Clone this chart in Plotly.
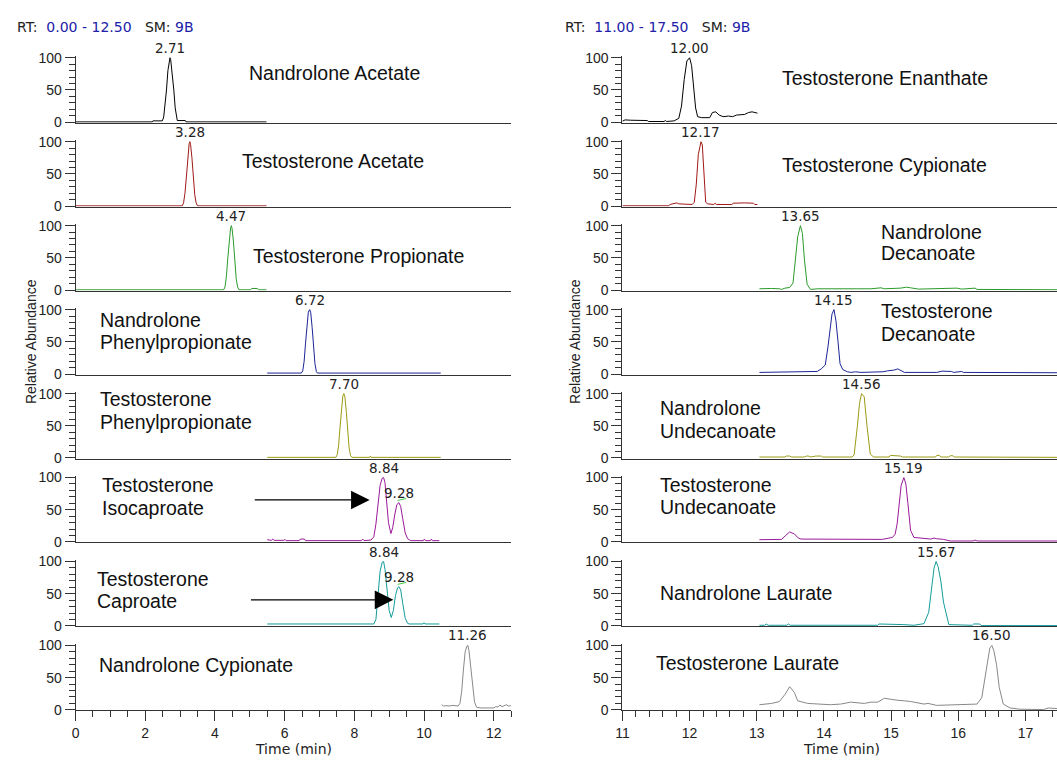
import plotly.graph_objects as go

# ---------------- data ----------------
left_names = [
    ["Nandrolone Acetate"], ["Testosterone Acetate"], ["Testosterone Propionate"],
    ["Nandrolone", "Phenylpropionate"], ["Testosterone", "Phenylpropionate"],
    ["Testosterone", "Isocaproate"], ["Testosterone", "Caproate"], ["Nandrolone Cypionate"],
]
right_names = [
    ["Testosterone Enanthate"], ["Testosterone Cypionate"], ["Nandrolone", "Decanoate"],
    ["Testosterone", "Decanoate"], ["Nandrolone", "Undecanoate"], ["Testosterone", "Undecanoate"],
    ["Nandrolone Laurate"], ["Testosterone Laurate"],
]
left_peak_rt = [[2.71], [3.28], [4.47], [6.72], [7.70], [8.84, 9.28], [8.84, 9.28], [11.26]]
left_peak_h = [[100], [100], [100], [100], [100], [100, 61], [100, 61], [100]]
right_peak_rt = [[12.00], [12.17], [13.65], [14.15], [14.56], [15.19], [15.67], [16.50]]
right_peak_h = [[100], [100], [100], [100], [100], [100], [100], [100]]

left_x = [
    [0.00, 2.20, 2.22, 2.46, 2.49, 2.53, 2.57, 2.61, 2.65, 2.69, 2.71, 2.73, 2.77, 2.82, 2.86, 2.89, 2.92, 3.15, 3.17, 5.48],
    [0.00, 3.06, 3.10, 3.14, 3.18, 3.22, 3.26, 3.28, 3.30, 3.34, 3.38, 3.42, 3.46, 3.50, 5.48],
    [0.00, 4.25, 4.29, 4.33, 4.37, 4.41, 4.45, 4.47, 4.49, 4.53, 4.57, 4.61, 4.65, 4.69, 5.02, 5.05, 5.22, 5.25, 5.48],
    [5.50, 6.48, 6.52, 6.56, 6.60, 6.64, 6.68, 6.72, 6.75, 6.79, 6.83, 6.87, 6.91, 6.94, 10.48],
    [5.50, 7.47, 7.51, 7.55, 7.59, 7.63, 7.67, 7.70, 7.73, 7.77, 7.81, 7.85, 7.89, 7.93, 8.44, 8.46, 8.48, 10.48],
    [5.50, 5.62, 5.66, 5.70, 5.98, 6.01, 6.04, 6.42, 6.45, 6.57, 6.60, 8.20, 8.24, 8.28, 8.48, 8.56, 8.62, 8.68, 8.74, 8.80,
     8.84, 8.88, 8.93, 8.98, 9.05, 9.10, 9.16, 9.22, 9.28, 9.33, 9.39, 9.46, 9.53, 9.62, 9.98, 10.01, 10.04, 10.18, 10.21, 10.24, 10.44],
    [5.50, 8.56, 8.62, 8.68, 8.74, 8.80, 8.84, 8.88, 8.94, 9.00, 9.06, 9.12, 9.18, 9.24, 9.28, 9.33, 9.39, 9.46, 9.53, 9.58,
     9.97, 10.00, 10.03, 10.44],
    [10.51, 10.56, 10.62, 10.75, 10.80, 10.98, 11.03, 11.08, 11.13, 11.18, 11.23, 11.26, 11.29, 11.34, 11.39, 11.45, 11.51,
     11.57, 11.63, 12.00, 12.06, 12.12, 12.18, 12.24, 12.30, 12.36, 12.42, 12.49],
]
left_y = [
    [0.4, 0.4, 2, 2, 2, 8, 25, 50, 80, 97, 100, 97, 80, 50, 22, 8, 2.5, 2.5, 0.4, 0.4],
    [0.4, 0.4, 5, 20, 45, 78, 97, 100, 96, 75, 45, 18, 5, 0.4, 0.4],
    [0.4, 0.4, 5, 22, 50, 80, 97, 100, 96, 76, 45, 18, 5, 0.4, 0.4, 2.5, 2.5, 0.4, 0.4],
    [1.5, 1.5, 5, 20, 48, 78, 96, 100, 95, 72, 42, 16, 4, 1.5, 1.5],
    [1, 1, 5, 20, 48, 78, 96, 100, 95, 72, 42, 16, 4, 1, 1, 3, 1, 1],
    [3.5, 2.5, 4.5, 2.5, 2.5, 4, 2, 2, 4.5, 4.5, 2, 2, 4.5, 2, 3, 8, 28, 60, 88, 99,
     100, 92, 65, 30, 13, 22, 42, 58, 61, 55, 36, 14, 5, 2, 2, 4.5, 2, 2, 4.5, 2, 2],
    [3, 3, 10, 45, 85, 99, 100, 88, 52, 24, 13, 24, 47, 59, 61, 56, 35, 12, 4, 3, 3, 5, 3, 3],
    [8, 6, 6.5, 6, 7, 6, 10, 28, 62, 90, 99, 100, 92, 65, 35, 12, 4, 3, 3, 3, 5, 4.5, 7.5, 5, 6, 8, 6, 6.5],
]
right_x = [
    [11.00, 11.04, 11.12, 11.25, 11.37, 11.39, 11.62, 11.64, 11.66, 11.77, 11.84, 11.88, 11.92, 11.96, 12.00, 12.03,
     12.06, 12.09, 12.12, 12.18, 12.30, 12.34, 12.39, 12.44, 12.50, 12.58, 12.64, 12.70, 12.82, 12.88, 12.93, 13.01],
    [11.00, 11.69, 11.71, 11.78, 11.81, 11.84, 11.94, 12.04, 12.07, 12.10, 12.13, 12.17, 12.19, 12.22, 12.24, 12.27,
     12.36, 12.38, 12.40, 12.63, 12.65, 12.82, 12.95, 12.97, 13.01],
    [13.04, 13.12, 13.22, 13.34, 13.37, 13.42, 13.49, 13.54, 13.58, 13.61, 13.65, 13.68, 13.71, 13.75, 13.80, 13.91,
     14.50, 14.70, 14.85, 14.90, 15.14, 15.23, 15.29, 15.41, 15.98, 16.05, 16.25, 16.28, 17.47],
    [13.04, 13.50, 13.90, 13.96, 14.02, 14.06, 14.09, 14.12, 14.15, 14.18, 14.21, 14.24, 14.28, 14.35, 14.40, 14.47,
     14.55, 14.62, 14.88, 14.95, 15.04, 15.10, 15.15, 15.20, 15.68, 15.76, 15.90, 15.93, 16.05, 16.08, 17.47],
    [13.04, 13.42, 13.44, 13.49, 13.52, 13.71, 13.74, 13.77, 13.80, 13.88, 13.96, 13.98, 14.42, 14.45, 14.50, 14.53,
     14.56, 14.60, 14.64, 14.69, 14.74, 14.97, 14.99, 15.14, 15.17, 15.66, 15.68, 15.72, 15.74, 15.86, 15.88, 15.92,
     15.94, 17.47],
    [13.04, 13.37, 13.43, 13.49, 13.56, 13.62, 13.66, 14.87, 15.02, 15.06, 15.09, 15.12, 15.15, 15.19, 15.22, 15.25,
     15.29, 15.34, 15.59, 15.64, 15.68, 15.78, 15.88, 16.22, 16.25, 16.28, 17.47],
    [13.04, 13.12, 13.14, 13.17, 13.45, 13.47, 13.50, 14.80, 14.82, 14.90, 14.95, 15.05, 15.10, 15.15, 15.19, 15.34,
     15.49, 15.56, 15.61, 15.64, 15.67, 15.70, 15.74, 15.78, 15.86, 16.21, 16.23, 16.32, 16.34, 17.47],
    [13.04, 13.22, 13.34, 13.42, 13.49, 13.56, 13.61, 13.76, 14.10, 14.25, 14.40, 14.48, 14.60, 14.70, 14.80, 14.90,
     15.00, 15.09, 15.20, 15.29, 15.49, 15.55, 15.68, 15.90, 16.08, 16.28, 16.35, 16.40, 16.44, 16.47, 16.50, 16.53,
     16.57, 16.61, 16.67, 16.77, 16.92, 17.27, 17.34, 17.47],
]
right_y = [
    [1.5, 3.5, 3, 3, 2.5, 1, 1, 2.5, 1, 2, 6, 25, 66, 95, 100, 88, 55, 22, 8.5, 7, 7, 15, 16, 11, 8.5, 9.5, 8.5, 11,
     12, 15, 16, 14],
    [0.5, 0.5, 2.5, 3.5, 5, 3.5, 2.5, 2.5, 6, 34, 80, 100, 95, 45, 6, 3.5, 2.5, 4.5, 2.5, 2.5, 4.5, 5, 4.5, 2.5, 2.5],
    [2, 2.5, 2.5, 2, 1, 3, 4, 11, 52, 83, 100, 88, 47, 9, 1, 2, 2, 2, 3.5, 2, 3, 4.5, 3.5, 1.5, 3, 1.5, 3, 1, 0.5],
    [2.5, 3, 4, 8, 14, 42, 68, 93, 100, 82, 50, 16, 7, 3.5, 2.5, 3.5, 2.5, 2.5, 3.5, 5, 6, 8, 5, 2.5, 2.5, 4.5, 4,
     2.5, 4, 2.5, 2],
    [1.5, 1.5, 3, 3, 1.5, 1.5, 3, 3, 1.5, 3, 3, 1.5, 1.5, 5, 51, 85, 100, 95, 51, 6, 1.5, 1.5, 4, 3, 1.5, 1.5, 4, 4,
     1.5, 1.5, 3.5, 3.5, 1.5, 1],
    [3.5, 4, 10, 15.5, 12.5, 6, 4.5, 4, 7, 12, 28, 60, 88, 100, 90, 60, 18, 7, 4.5, 6, 5, 4, 1.5, 1.5, 3, 1.5, 1.5],
    [1, 1, 3, 1, 1, 3, 1, 1, 3, 3, 2, 3, 3, 2.5, 2, 1, 3.5, 21, 62, 90, 100, 92, 70, 37, 2, 1, 3, 3, 0.5, 0.5],
    [8, 10, 13, 24, 36, 27, 14, 10, 8, 9, 12, 11, 10, 12, 12, 18, 16, 15, 14, 13, 9, 10, 7, 8, 8, 9, 19, 50, 80, 96,
     100, 92, 70, 35, 9, 3, 1, 0.5, 3, 2],
]
trace_colors = ["#000000", "#a01818", "#2a9a2a", "#1c2496", "#9a9a14", "#9a1a9a", "#149a9a", "#888888"]
y_ticks = [0, 50, 100]
y_minor = [10, 20, 30, 40, 60, 70, 80, 90]
# arrows (tail x, tip x, y) in rows 5 and 6 of the left column
arrow_rows = [5, 6]
arrow_tail_x = [5.10, 4.99]
arrow_tip_x = [8.44, 9.12]
arrow_y = [65.2, 40.5]
headers = [("0.00 - 12.50", "9B"), ("11.00 - 17.50", "9B")]

# ---------------- layout geometry ----------------
W, H = 1057, 763
def PX(p): return p / W
def PY(p): return 1 - p / H

ROW0, ROWSTEP, UNIT = 117.3, 85.53, 0.656
col_dom = [(69.0, 507.5), (619.5, 1057.0)]
col_range = [(0, 12.5), (11, 17.47)]
col_dtick = [(2, 0.5), (1, 0.2)]

SMALL = "DejaVu Sans"
LABEL = "Liberation Sans, Arial, sans-serif"
AX = "#333333"
TICKFONT = dict(family=LABEL, size=14, color="#222")

fig = go.Figure()
layout = {}
annotations = []
shapes = []

# name label positions (px): x, list of line-centre y
left_lab_pos = [(241.7, [67.5]), (235, [156.5]), (245.7, [254]), (91.7, [319, 341.7]), (91.7, [399.3, 422.7]),
                (93.3, [487.3, 510.7]), (89, [582.7, 605.3]), (91, [670.7])]
right_lab_pos = [(778.3, [72.5]), (778.3, [160.8]), (877.7, [229, 250.5]), (877.7, [310, 332.7]),
                 (655, [408.3, 431.7]), (655, [486.7, 509.3]), (655, [597.3]), (651.7, [668.3])]

for c in range(2):
    xs_all = left_x if c == 0 else right_x
    ys_all = left_y if c == 0 else right_y
    names = left_names if c == 0 else right_names
    lab_pos = left_lab_pos if c == 0 else right_lab_pos
    prts = left_peak_rt if c == 0 else right_peak_rt
    phs = left_peak_h if c == 0 else right_peak_h
    for r in range(8):
        k = c * 8 + r + 1
        sfx = "" if k == 1 else str(k)
        y0 = ROW0 + ROWSTEP * r
        ydom = [PY(y0 + 0.8 * UNIT), PY(y0 - 102 * UNIT)]
        bottom = (r == 7)
        xa = dict(domain=[PX(col_dom[c][0]), PX(col_dom[c][1])], range=list(col_range[c]),
                  anchor="y" + sfx, showline=True, linecolor=AX, linewidth=1, showgrid=False,
                  zeroline=False, fixedrange=True, showticklabels=bottom,
                  ticks="outside" if bottom else "", tickmode="linear", tick0=col_range[c][0],
                  dtick=col_dtick[c][0], ticklen=10, tickwidth=1, tickcolor=AX, tickfont=TICKFONT)
        if bottom:
            xa["minor"] = dict(ticks="outside", tickmode="linear", tick0=col_range[c][0],
                               dtick=col_dtick[c][1], ticklen=6, tickwidth=1, tickcolor=AX)
        ya = dict(domain=ydom, range=[-0.8, 102], anchor="x" + sfx, showline=True, linecolor=AX,
                  linewidth=1, showgrid=False, zeroline=False, fixedrange=True, ticks="outside",
                  tickmode="array", tickvals=y_ticks, ticklen=10, tickwidth=1, tickcolor=AX,
                  tickfont=TICKFONT,
                  minor=dict(ticks="outside", tickmode="array", tickvals=y_minor, ticklen=6,
                             tickwidth=1, tickcolor=AX))
        layout["xaxis" + sfx] = xa
        layout["yaxis" + sfx] = ya

        fig.add_trace(go.Scatter(x=xs_all[r], y=ys_all[r], xaxis="x" + sfx, yaxis="y" + sfx,
                                 mode="lines", line=dict(color=trace_colors[r], width=1),
                                 hoverinfo="skip", showlegend=False))
        # peak labels
        for rt, h in zip(prts[r], phs[r]):
            annotations.append(dict(x=rt, y=h, xref="x" + sfx, yref="y" + sfx, text=f"{rt:.2f}",
                                    showarrow=False, xanchor="center", yanchor="bottom",
                                    font=dict(family=SMALL, size=13.5, color="#222")))
            if h < 100:
                shapes.append(dict(type="line", xref="x" + sfx, yref="y" + sfx, x0=rt - 0.04,
                                   x1=rt + 0.21, y0=h + 3.5, y1=h + 6.5,
                                   line=dict(color="#44cc44", width=1)))
        # compound names
        lx, lys = lab_pos[r]
        for line, ly in zip(names[r], lys):
            annotations.append(dict(x=PX(lx), y=PY(ly), xref="paper", yref="paper", text=line,
                                    showarrow=False, xanchor="left", yanchor="middle",
                                    font=dict(family=LABEL, size=19.5, color="#111")))

# arrows
for row, tx, hx, ay in zip(arrow_rows, arrow_tail_x, arrow_tip_x, arrow_y):
    k = row + 1
    sfx = "" if k == 1 else str(k)
    annotations.append(dict(x=hx, y=ay, ax=tx, ay=ay, xref="x" + sfx, yref="y" + sfx,
                            axref="x" + sfx, ayref="y" + sfx, text="", showarrow=True,
                            arrowhead=2, arrowsize=3.1, arrowwidth=1.2, arrowcolor="#000"))

# headers
NB = "\u00a0"
for (rt_txt, sm_txt), hx in zip(headers, [8.5, 559.3]):
    txt = (f"RT:{NB}{NB}<span style='color:#2020a8'>{rt_txt}</span>{NB}{NB}{NB}SM:{NB}"
           f"<span style='color:#2020a8'>{sm_txt}</span>")
    annotations.append(dict(x=PX(hx), y=PY(20.7), xref="paper", yref="paper", text=txt,
                            showarrow=False, xanchor="left", yanchor="middle",
                            font=dict(family=SMALL, size=14, color="#222")))

# axis titles
for xc in [23.5, 572]:
    annotations.append(dict(x=PX(xc), y=PY(341), xref="paper", yref="paper",
                            text="Relative Abundance", textangle=-90, showarrow=False,
                            xanchor="center", yanchor="middle",
                            font=dict(family=LABEL, size=14, color="#222")))
for xc in [288.5, 840]:
    annotations.append(dict(x=PX(xc), y=PY(756), xref="paper", yref="paper", text="Time (min)",
                            showarrow=False, xanchor="center", yanchor="middle",
                            font=dict(family=SMALL, size=14, color="#222")))

fig.update_layout(width=W, height=H, margin=dict(l=0, r=0, t=0, b=0), paper_bgcolor="white",
                  plot_bgcolor="white", annotations=annotations, shapes=shapes, **layout)
fig.write_html("out.html", config={"displayModeBar": False, "staticPlot": True},
               post_script="document.body.style.margin='0';document.body.style.overflow='hidden';")
